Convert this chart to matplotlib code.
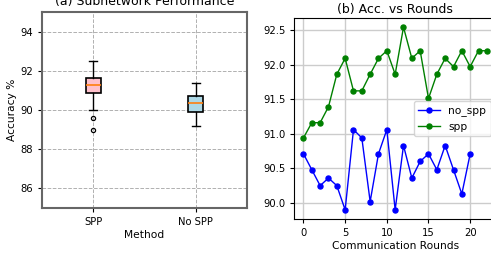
import numpy as np
import matplotlib
matplotlib.use("Agg")
import matplotlib.pyplot as plt

# (a) box stats
methods = ["SPP", "No SPP"]
box_colors = ["pink", "lightblue"]
q1 = [90.85, 89.90]
med = [91.28, 90.36]
q3 = [91.62, 90.70]
whislo = [90.00, 89.20]
whishi = [92.52, 91.38]
fliers = [[89.58, 89.00], []]

# (b) accuracy per communication round
rounds_spp = list(range(23))
spp = [90.94, 91.16, 91.16, 91.39, 91.86, 92.09, 91.62, 91.62, 91.86, 92.09, 92.20, 91.86,
       92.54, 92.09, 92.20, 91.51, 91.86, 92.09, 91.97, 92.20, 91.97, 92.20, 92.20]
rounds_no = list(range(21))
no_spp = [90.71, 90.48, 90.25, 90.36, 90.25, 89.90, 91.06, 90.94, 90.02, 90.71, 91.06, 89.90,
          90.83, 90.36, 90.60, 90.71, 90.48, 90.83, 90.48, 90.13, 90.71]

TICK = 7.2
LAB = 7.7
TIT = 9.0

fig = plt.figure(figsize=(4.91, 2.54), dpi=100)
ax1 = fig.add_axes([0.0855, 0.181, 0.4175, 0.772])
ax2 = fig.add_axes([0.5994, 0.1378, 0.4108, 0.791])

stats = []
for i in range(len(methods)):
	stats.append(dict(label=methods[i], q1=q1[i], med=med[i], q3=q3[i],
	                  whislo=whislo[i], whishi=whishi[i], fliers=fliers[i]))
bp = ax1.bxp(stats, positions=[1, 2], widths=0.15, patch_artist=True,
             boxprops=dict(linewidth=1.2, edgecolor="black"),
             whiskerprops=dict(linewidth=1.0),
             capprops=dict(linewidth=1.0),
             medianprops=dict(color="#ff7f0e", linewidth=1.2),
             flierprops=dict(marker="o", markersize=3, markerfacecolor="none",
                             markeredgecolor="black", markeredgewidth=0.9))
for patch, c in zip(bp["boxes"], box_colors):
	patch.set_facecolor(c)
ax1.set_xlim(0.5, 2.5)
ax1.set_ylim(85, 95)
ax1.set_yticks([86, 88, 90, 92, 94])
ax1.grid(True, linestyle="--", color="#b0b0b0", linewidth=0.7)
ax1.set_axisbelow(True)
for s in ax1.spines.values():
	s.set_color("#666666")
	s.set_linewidth(1.5)
ax1.tick_params(labelsize=TICK, length=3)
ax1.set_title("(a) Subnetwork Performance", fontsize=TIT, pad=5)
ax1.set_xlabel("Method", fontsize=LAB, labelpad=2)
ax1.set_ylabel("Accuracy %", fontsize=LAB, labelpad=2)

ax2.plot(rounds_no, no_spp, color="blue", marker="o", markersize=3.6, linewidth=1.0, label="no_spp")
ax2.plot(rounds_spp, spp, color="green", marker="o", markersize=3.6, linewidth=1.0, label="spp")
ax2.set_xticks([0, 5, 10, 15, 20])
ax2.set_yticks([90.0, 90.5, 91.0, 91.5, 92.0, 92.5])
ax2.grid(True, color="#cccccc", linewidth=1.0)
ax2.tick_params(labelsize=TICK, length=3)
ax2.set_title("(b) Acc. vs Rounds", fontsize=TIT, pad=4)
ax2.set_xlabel("Communication Rounds", fontsize=LAB, labelpad=2)
ax2.legend(loc="center right", fontsize=LAB, handlelength=2.0)

fig.savefig("out.png", dpi=100)
